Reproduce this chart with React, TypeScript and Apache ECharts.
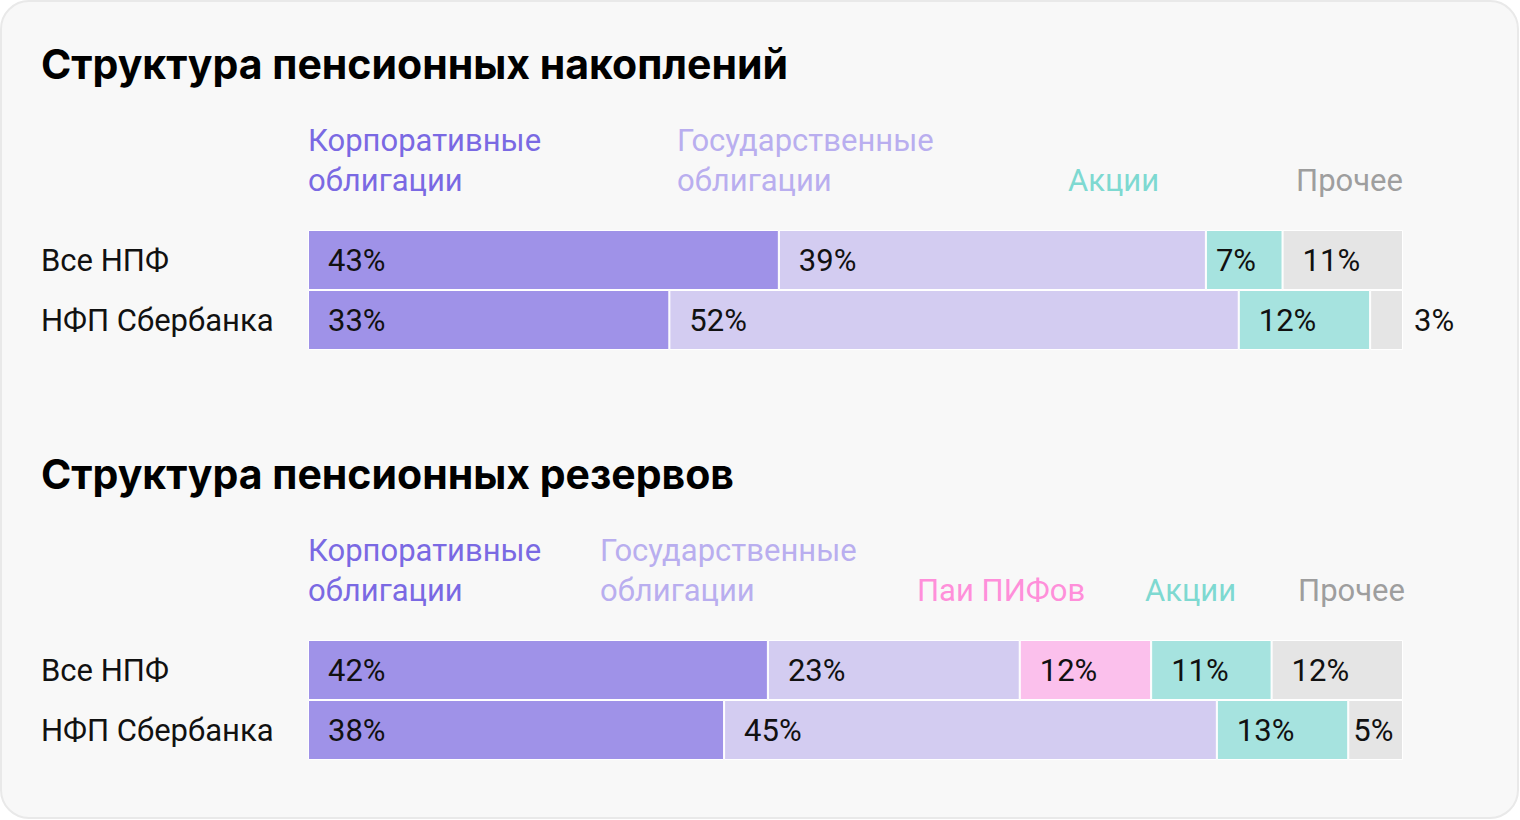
import React, { useEffect, useRef } from "react";
import * as echarts from "echarts";

// ---- data ----
const rowNames = ["Все НПФ", "НФП Сбербанка"];

const titleAcc = "Структура пенсионных накоплений";
const titleRes = "Структура пенсионных резервов";

const seriesNamesAcc = ["Корпоративные облигации", "Государственные облигации", "Акции", "Прочее"];
const accKorp = [43, 33];
const accGos = [39, 52];
const accAkcii = [7, 12];
const accProch = [11, 3];

const seriesNamesRes = ["Корпоративные облигации", "Государственные облигации", "Паи ПИФов", "Акции", "Прочее"];
const resKorp = [42, 38];
const resGos = [23, 45];
const resPif = [12, 0];
const resAkcii = [11, 12];
const resAkciiLabels = ["11%", "13%"];
const resProch = [12, 5];

const legendAcc = ["Корпоративные\nоблигации", "Государственные\nоблигации", "Акции", "Прочее"];
const legendRes = ["Корпоративные\nоблигации", "Государственные\nоблигации", "Паи ПИФов", "Акции", "Прочее"];

// ---- styles ----
const FONT = "Roboto";
const TITLE_FONT = "Inter";
const FS = 31;
const C = {
  korp: "#9f92e8",
  gos: "#d3ccf1",
  pif: "#fbc0ec",
  akcii: "#a6e3df",
  proch: "#e5e5e5",
};
const T = {
  korp: "#7a69e3",
  gos: "#b9aeef",
  pif: "#ff8fda",
  akcii: "#7ed9d1",
  proch: "#9e9e9e",
};

function labelFor(v: number) {
  if (v < 4) return { position: "right", distance: 11 };
  if (v < 6) return { position: "insideLeft", distance: 5 };
  if (v < 10) return { position: "insideLeft", distance: 10 };
  return { position: "insideLeft", distance: 20 };
}

function makeSeries(name: string, values: number[], color: string, grid: number, stack: string, labels?: string[]) {
  return {
    type: "bar",
    name,
    stack,
    xAxisIndex: grid,
    yAxisIndex: grid,
    barWidth: 60,
    itemStyle: { color, borderColor: "#ffffff", borderWidth: 1 },
    data: values.map((v, i) => ({
      value: v === 0 ? null : v,
      label: {
        show: v !== 0,
        ...labelFor(v),
        formatter: labels ? labels[i] : v + "%",
        color: "#111111",
        fontFamily: FONT,
        fontSize: FS,
      },
    })),
  };
}

export default function App() {
  const ref = useRef<HTMLDivElement>(null);
  useEffect(() => {
    document.body.style.margin = "0";
    const chart = echarts.init(ref.current!, null, { renderer: "svg" });

    const catAxis = (grid: number) => ({
      type: "category",
      gridIndex: grid,
      data: rowNames,
      inverse: true,
      axisLine: { show: false },
      axisTick: { show: false },
      axisLabel: {
        align: "left",
        margin: 267,
        color: "#111111",
        fontFamily: FONT,
        fontSize: FS,
      },
    });
    const valAxis = (grid: number) => ({
      type: "value",
      gridIndex: grid,
      min: 0,
      max: 100,
      show: false,
    });

    const legendText = (texts: string[], xs: number[], ys: number[], colors: string[], aligns: string[]) =>
      texts.map((t, i) => ({
        type: "text",
        x: xs[i],
        y: ys[i],
        style: {
          text: t,
          fill: colors[i],
          font: `${FS}px ${FONT}`,
          lineHeight: 40,
          align: aligns[i],
          verticalAlign: "middle",
        },
      }));

    chart.setOption({
      animation: false,
      backgroundColor: "#ffffff",
      grid: [
        { left: 308, top: 230, width: 1095, height: 120 },
        { left: 308, top: 640, width: 1095, height: 120 },
      ],
      xAxis: [valAxis(0), valAxis(1)],
      yAxis: [catAxis(0), catAxis(1)],
      series: [
        makeSeries(seriesNamesAcc[0], accKorp, C.korp, 0, "acc"),
        makeSeries(seriesNamesAcc[1], accGos, C.gos, 0, "acc"),
        makeSeries(seriesNamesAcc[2], accAkcii, C.akcii, 0, "acc"),
        makeSeries(seriesNamesAcc[3], accProch, C.proch, 0, "acc"),
        makeSeries(seriesNamesRes[0], resKorp, C.korp, 1, "res"),
        makeSeries(seriesNamesRes[1], resGos, C.gos, 1, "res"),
        makeSeries(seriesNamesRes[2], resPif, C.pif, 1, "res"),
        makeSeries(seriesNamesRes[3], resAkcii, C.akcii, 1, "res", resAkciiLabels),
        makeSeries(seriesNamesRes[4], resProch, C.proch, 1, "res"),
      ],
      graphic: [
        {
          type: "rect",
          z: -10,
          silent: true,
          shape: { x: 1, y: 1, width: 1517, height: 817, r: 28 },
          style: { fill: "#f8f8f8", stroke: "#e9e9e9", lineWidth: 2 },
        },
        {
          type: "text",
          x: 41,
          y: 64,
          style: { text: titleAcc, fill: "#000000", font: `bold 41px ${TITLE_FONT}`, verticalAlign: "middle" },
        },
        {
          type: "text",
          x: 41,
          y: 474,
          style: { text: titleRes, fill: "#000000", font: `bold 41px ${TITLE_FONT}`, verticalAlign: "middle" },
        },
        ...legendText(
          legendAcc,
          [308, 677, 1068, 1403],
          [160, 160, 180, 180],
          [T.korp, T.gos, T.akcii, T.proch],
          ["left", "left", "left", "right"]
        ),
        ...legendText(
          legendRes,
          [308, 600, 917, 1145, 1405],
          [570, 570, 590, 590, 590],
          [T.korp, T.gos, T.pif, T.akcii, T.proch],
          ["left", "left", "left", "left", "right"]
        ),
      ],
    });
    return () => chart.dispose();
  }, []);
  return <div ref={ref} style={{ width: 1520, height: 820 }} />;
}
